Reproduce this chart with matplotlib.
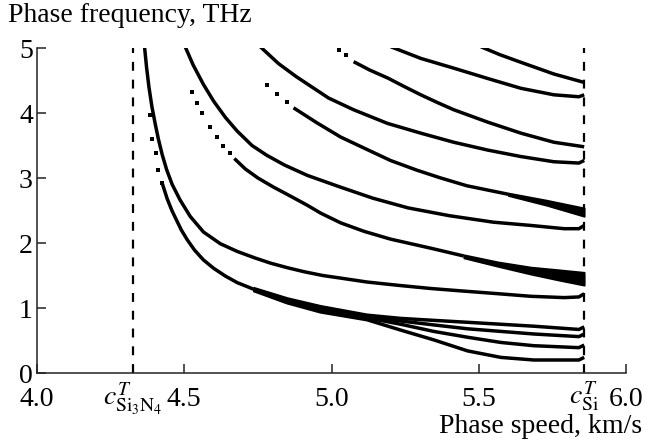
import matplotlib
matplotlib.use("Agg")
import matplotlib.pyplot as plt

plt.rcParams['font.family'] = ['Liberation Serif', 'DejaVu Serif']
plt.rcParams['mathtext.fontset'] = 'stix'

# transverse sound speeds (km/s)
c_si3n4 = 4.3255
c_si = 5.858

# branches: (phase speed km/s, frequency THz)
f0_dots_x = [4.384, 4.39, 4.405, 4.412, 4.425]
f0_dots_y = [3.97, 3.6, 3.38, 3.12, 2.92]
f0_x = [4.425, 4.442, 4.458, 4.476, 4.49, 4.51, 4.535, 4.565, 4.6, 4.64, 4.68, 4.735]
f0_y = [2.92, 2.68, 2.5, 2.33, 2.2, 2.05, 1.89, 1.74, 1.61, 1.49, 1.39, 1.29]

# the lowest branch splits into four lines
split_x = [4.735, 4.85, 4.963, 5.12, 5.235, 5.347, 5.462, 5.575, 5.687, 5.84, 5.858]
l1_y = [1.30, 1.14, 1.02, 0.89, 0.84, 0.81, 0.78, 0.75, 0.72, 0.67, 0.71]
l2_y = [1.29, 1.12, 1.00, 0.87, 0.80, 0.74, 0.68, 0.64, 0.60, 0.56, 0.60]
l3_y = [1.28, 1.10, 0.97, 0.85, 0.75, 0.64, 0.55, 0.47, 0.42, 0.39, 0.43]
l4_y = [1.27, 1.08, 0.94, 0.82, 0.66, 0.51, 0.34, 0.24, 0.20, 0.20, 0.24]

f1_x = [4.365, 4.372, 4.38, 4.39, 4.401, 4.412, 4.425, 4.44, 4.459, 4.486, 4.52,
        4.565, 4.622, 4.68, 4.74, 4.793, 4.85, 4.905, 4.97, 5.031, 5.12, 5.224,
        5.337, 5.449, 5.565, 5.677, 5.79, 5.84, 5.858]
f1_y = [5.02, 4.7, 4.4, 4.1, 3.84, 3.6, 3.36, 3.13, 2.9, 2.66, 2.41,
        2.17, 1.99, 1.87, 1.77, 1.69, 1.62, 1.56, 1.5, 1.46, 1.40, 1.35,
        1.30, 1.26, 1.22, 1.18, 1.16, 1.17, 1.22]

f2_x = [4.503, 4.53, 4.565, 4.6, 4.64, 4.68, 4.73, 4.78, 4.84, 4.918, 5.03,
        5.14, 5.26, 5.4, 5.55, 5.677, 5.79, 5.84, 5.858]
f2_y = [5.02, 4.74, 4.44, 4.18, 3.93, 3.72, 3.5, 3.35, 3.2, 3.04, 2.86,
        2.69, 2.54, 2.42, 2.32, 2.27, 2.22, 2.22, 2.27]

f3_dots_x = [4.527, 4.544, 4.561, 4.588, 4.612, 4.633, 4.656]
f3_dots_y = [4.32, 4.15, 4.0, 3.78, 3.63, 3.5, 3.38]
f3_x = [4.67, 4.707, 4.75, 4.803, 4.861, 4.918, 4.963, 5.031, 5.11, 5.2,
        5.337, 5.449]
f3_y = [3.3, 3.14, 3.0, 2.86, 2.72, 2.58, 2.46, 2.31, 2.18, 2.06,
        1.92, 1.80]
f3_band_x = [5.449, 5.565, 5.677, 5.77, 5.858]
f3_band_hi = [1.82, 1.71, 1.63, 1.59, 1.55]
f3_band_lo = [1.77, 1.64, 1.52, 1.43, 1.35]

c5_dots_x = [4.782, 4.816, 4.85]
c5_dots_y = [4.43, 4.3, 4.17]
c5_x = [4.871, 4.95, 5.031, 5.12, 5.2, 5.29, 5.371, 5.46, 5.6]
c5_y = [4.08, 3.85, 3.63, 3.44, 3.27, 3.12, 3.0, 2.88, 2.75]
c5_band_x = [5.6, 5.73, 5.858]
c5_band_hi = [2.77, 2.66, 2.54]
c5_band_lo = [2.73, 2.58, 2.41]

c4_x = [4.758, 4.82, 4.88, 4.94, 4.99, 5.075, 5.19, 5.303, 5.415, 5.53, 5.643,
        5.755, 5.84, 5.858]
c4_y = [5.02, 4.76, 4.56, 4.38, 4.23, 4.05, 3.84, 3.69, 3.55, 3.43, 3.33,
        3.25, 3.23, 3.27]

c3_dots_x = [5.024, 5.048]
c3_dots_y = [4.97, 4.89]
c3_x = [5.075, 5.13, 5.19, 5.25, 5.303, 5.36, 5.415, 5.53, 5.643, 5.755, 5.858]
c3_y = [4.79, 4.66, 4.54, 4.4, 4.28, 4.16, 4.05, 3.86, 3.69, 3.55, 3.48]

c2_x = [5.201, 5.303, 5.415, 5.531, 5.643, 5.755, 5.84, 5.858]
c2_y = [5.02, 4.84, 4.69, 4.53, 4.38, 4.28, 4.25, 4.28]

c1_x = [5.507, 5.57, 5.643, 5.755, 5.858]
c1_y = [5.02, 4.9, 4.78, 4.6, 4.47]

fig = plt.figure(figsize=(6.53, 4.42), dpi=100)
ax = fig.add_axes([0.0567, 0.1561, 0.902, 0.7353])

lw = 2.5
for xs, ys in [(f0_x, f0_y), (split_x, l1_y), (split_x, l2_y), (split_x, l3_y),
               (split_x, l4_y), (f1_x, f1_y), (f2_x, f2_y), (f3_x, f3_y),
               (c5_x, c5_y), (c4_x, c4_y), (c3_x, c3_y), (c2_x, c2_y),
               (c1_x, c1_y)]:
    ax.plot(xs, ys, color='black', lw=lw, solid_capstyle='butt', solid_joinstyle='round')

for bx, hi, lo in [(f3_band_x, f3_band_hi, f3_band_lo), (c5_band_x, c5_band_hi, c5_band_lo)]:
    ax.fill_between(bx, lo, hi, color='black', lw=1.2, edgecolor='black')

for dx, dy in [(f0_dots_x, f0_dots_y), (f3_dots_x, f3_dots_y), (c5_dots_x, c5_dots_y),
               (c3_dots_x, c3_dots_y)]:
    ax.plot(dx, dy, 's', color='black', ms=2.8, mew=0)

# sound speed limits
for c in [c_si3n4, c_si]:
    ax.axvline(c, color='black', lw=1.6, dashes=(4, 4))

ax.set_xlim(4.0, 6.0)
ax.set_ylim(0, 5)
for side in ['top', 'right']:
    ax.spines[side].set_visible(False)
for side in ['left', 'bottom']:
    ax.spines[side].set_linewidth(1.1)
    ax.spines[side].set_color('#222222')

ax.set_xticks([4.0, 4.5, 5.0, 5.5, 6.0], ['4.0', '4.5', '5.0', '5.5', '6.0'])
ax.set_xticks([c_si3n4, c_si], [r'$c^{T}_{\mathrm{Si_3N_4}}$', r'$c^{T}_{\mathrm{Si}}$'], minor=True)
ax.set_yticks([0, 1, 2, 3, 4, 5])
ax.tick_params(which='major', direction='in', length=6.5, width=1.1, labelsize=20, color='#222222')
ax.tick_params(axis='x', which='major', pad=10)
ax.tick_params(axis='y', which='major', pad=3)
ax.tick_params(axis='x', which='minor', length=0, labelsize=20, pad=5)

fig.text(0.012, 0.965, 'Phase frequency, THz', ha='left', va='center', fontsize=20)
fig.text(0.984, 0.036, 'Phase speed, km/s', ha='right', va='center', fontsize=20)

fig.savefig('out.png', dpi=100)
